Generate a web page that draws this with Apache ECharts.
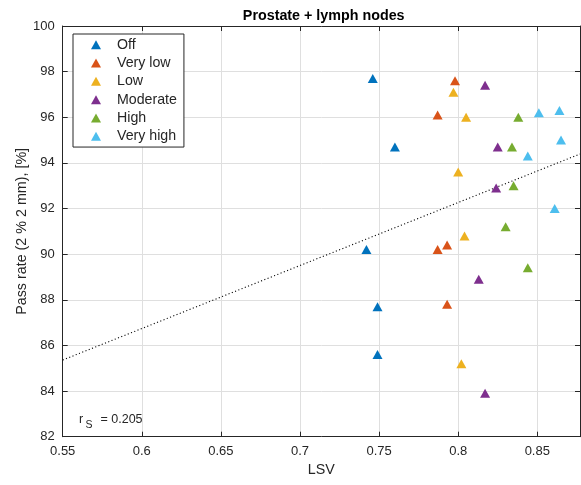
<!DOCTYPE html>
<html>
<head>
<meta charset="utf-8">
<title>Prostate + lymph nodes</title>
<script src="https://cdn.jsdelivr.net/npm/echarts@6/dist/echarts.min.js"></script>
<style>
  html, body { margin: 0; padding: 0; background: #ffffff; }
  #chart { width: 581px; height: 485px; }
</style>
</head>
<body>
<div id="chart"></div>
<script>
// Noise-reduction levels and their colours
const categories = ['Off', 'Very low', 'Low', 'Moderate', 'High', 'Very high'];
const colors = ['#0072BD', '#D95319', '#EDB120', '#7E2F8E', '#77AC30', '#4DBEEE'];

// LSV per plan, one row per level
const lsvValues = [
  [0.746, 0.760, 0.742, 0.749, 0.749],
  [0.798, 0.787, 0.793, 0.787, 0.793],
  [0.797, 0.805, 0.800, 0.804, 0.802],
  [0.817, 0.825, 0.824, 0.813, 0.817],
  [0.838, 0.834, 0.835, 0.830, 0.844],
  [0.851, 0.864, 0.865, 0.844, 0.861]
];

// Gamma pass rate (2 % / 2 mm) per plan, same order
const passValues = [
  [97.7, 94.7, 90.2, 87.7, 85.6],
  [97.6, 96.1, 90.4, 90.2, 87.8],
  [97.1, 96.0, 93.6, 90.8, 85.2],
  [97.4, 94.7, 92.9, 88.9, 83.9],
  [96.0, 94.7, 93.0, 91.2, 89.4],
  [96.2, 96.3, 95.0, 94.3, 92.0]
];

// Least-squares fit line, endpoints at the axis limits
const fitLSV = [0.55, 0.877];
const fitPass = [85.36, 94.39];

// Spearman correlation shown in the corner
const spearmanR = '0.205';

const xTicks = { min: 0.55, max: 0.877, interval: 0.05 };
const yTicks = { min: 82, max: 100, interval: 2 };

const FONT = '"Liberation Sans", Arial, Helvetica, sans-serif';
const AXIS_COLOR = '#262626';
const GRID_COLOR = '#dfdfdf';

const chart = echarts.init(document.getElementById('chart'), null, { renderer: 'canvas' });

function makeAxis(pos, ticks, main, extra) {
  return Object.assign({
    type: 'value',
    position: pos,
    min: ticks.min,
    max: ticks.max,
    interval: ticks.interval,
    axisLine: { show: true, onZero: false, lineStyle: { color: AXIS_COLOR, width: 1 } },
    axisTick: { show: true, inside: true, length: 5, lineStyle: { color: AXIS_COLOR, width: 1 } },
    axisLabel: {
      show: main,
      showMaxLabel: ticks === yTicks,
      color: AXIS_COLOR,
      fontSize: 13,
      fontFamily: FONT,
      margin: 8
    },
    splitLine: { show: main, lineStyle: { color: GRID_COLOR, width: 1 } }
  }, extra || {});
}

const scatterSeries = categories.map((name, i) => ({
  name: name,
  type: 'scatter',
  symbol: 'triangle',
  symbolSize: [10, 9],
  itemStyle: { color: colors[i], opacity: 1 },
  data: lsvValues[i].map((x, j) => [x, passValues[i][j]]),
  z: 3
}));

const fitSeries = {
  name: 'fit',
  type: 'line',
  data: fitLSV.map((x, j) => [x, fitPass[j]]),
  showSymbol: false,
  symbol: 'none',
  silent: true,
  lineStyle: { color: '#000000', width: 1.1, type: [1.1, 2.4] },
  z: 2
};

const cornerFont = FONT;

chart.setOption({
  backgroundColor: '#ffffff',
  animation: false,
  textStyle: { fontFamily: FONT },
  grid: { left: 62.7, right: 1, top: 26, bottom: 48.3, containLabel: false },
  xAxis: [
    makeAxis('bottom', xTicks, true, {
      name: 'LSV',
      nameLocation: 'middle',
      nameGap: 26,
      nameMoveOverlap: false,
      nameTextStyle: { color: AXIS_COLOR, fontSize: 14.3, fontFamily: FONT }
    }),
    makeAxis('top', xTicks, false)
  ],
  yAxis: [
    makeAxis('left', yTicks, true, {
      name: 'Pass rate (2 % 2 mm), [%]',
      nameLocation: 'middle',
      nameGap: 34,
      nameRotate: 90,
      nameMoveOverlap: false,
      nameTextStyle: { color: AXIS_COLOR, fontSize: 14.3, fontFamily: FONT }
    }),
    makeAxis('right', yTicks, false)
  ],
  legend: {
    data: categories,
    orient: 'vertical',
    left: 73,
    top: 34,
    padding: [3.2, 7, 3.2, 18],
    itemWidth: 10,
    itemHeight: 9,
    itemGap: 3.33,
    icon: 'triangle',
    backgroundColor: '#ffffff',
    borderColor: AXIS_COLOR,
    borderWidth: 1,
    borderRadius: 0,
    textStyle: {
      color: AXIS_COLOR,
      fontSize: 14.2,
      fontFamily: FONT,
      lineHeight: 15,
      padding: [0, 0, 0, 11]
    },
    selectedMode: false
  },
  graphic: [
    {
      type: 'text',
      x: 323.7,
      y: 15.7,
      style: {
        text: 'Prostate + lymph nodes',
        fill: '#000000',
        font: 'bold 14.3px ' + FONT,
        align: 'center',
        verticalAlign: 'middle'
      }
    },
    {
      type: 'group',
      z: 10,
      children: [
        {
          type: 'text',
          x: 79,
          y: 419.3,
          style: { text: 'r', fill: AXIS_COLOR, font: '12.5px ' + cornerFont, align: 'left', verticalAlign: 'middle' }
        },
        {
          type: 'text',
          x: 85.5,
          y: 425,
          style: { text: 'S', fill: AXIS_COLOR, font: '10.5px ' + cornerFont, align: 'left', verticalAlign: 'middle' }
        },
        {
          type: 'text',
          x: 100.5,
          y: 419.3,
          style: { text: '= ' + spearmanR, fill: AXIS_COLOR, font: '12.5px ' + cornerFont, align: 'left', verticalAlign: 'middle' }
        }
      ]
    }
  ],
  series: scatterSeries.concat([fitSeries])
});
</script>
</body>
</html>
